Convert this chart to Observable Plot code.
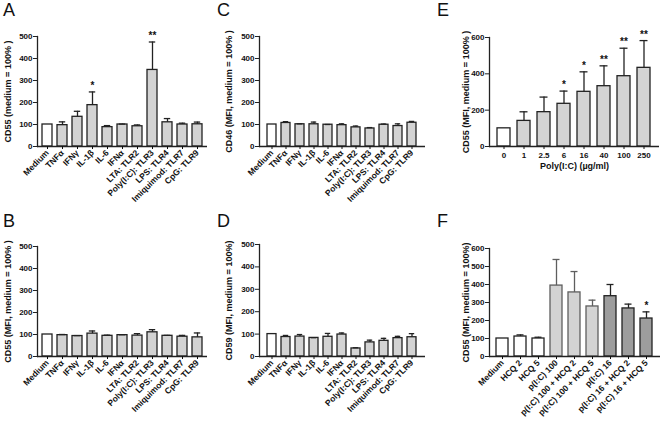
<!DOCTYPE html>
<html>
<head>
<meta charset="utf-8">
<script src="https://cdn.jsdelivr.net/npm/d3@7"></script>
<script src="https://cdn.jsdelivr.net/npm/@observablehq/plot@0.6"></script>
<style>
  html, body { margin: 0; padding: 0; background: #fff; }
  #wrap { position: relative; width: 660px; height: 423px; overflow: hidden; background: #fff; font-family: Arial, "Liberation Sans", sans-serif; }
  .panel { position: absolute; }
  .letter { position: absolute; font-size: 18px; color: #111; line-height: 1; }
</style>
</head>
<body>
<div id="wrap"></div>
<script>
// ---------- data ----------
const stimCats = ["Medium","TNFα","IFNγ","IL-1β","IL-6","IFNα","LTA: TLR2","Poly(I:C): TLR3","LPS: TLR4","Imiquimod: TLR7","CpG: TLR9"];
const stimGroups = ["ctrl","light","light","light","light","light","light","light","light","light","light"];

const aVal = [100, 97, 135, 188, 88, 100, 92, 348, 110, 100, 101];
const aErr = [0, 15, 25, 60, 7, 2, 6, 127, 17, 6, 10];
const aSig = ["", "", "", "*", "", "", "", "**", "", "", ""];

const bVal = [100, 97, 93, 104, 94, 97, 95, 110, 94, 90, 87];
const bErr = [0, 3, 2, 12, 3, 2, 9, 12, 2, 6, 20];

const cVal = [100, 107, 101, 101, 99, 97, 87, 82, 99, 93, 108];
const cErr = [0, 6, 2, 10, 1, 6, 6, 4, 3, 10, 6];

const dVal = [100, 87, 89, 83, 88, 98, 36, 63, 70, 82, 86];
const dErr = [0, 7, 9, 1, 15, 7, 3, 10, 11, 8, 16];

const eCats = ["0","1","2.5","6","16","40","100","250"];
const eGroups = ["ctrl","light","light","light","light","light","light","light"];
const eVal = [100, 141, 189, 235, 301, 332, 387, 433];
const eErr = [0, 50, 83, 70, 110, 112, 154, 150];
const eSig = ["", "", "", "*", "*", "**", "**", "**"];

const fCats = ["Medium","HCQ 2","HCQ 5","p(I:C) 100","p(I:C) 100 + HCQ 2","p(I:C) 100 + HCQ 5","p(I:C) 16","p(I:C) 16 + HCQ 2","p(I:C) 16 + HCQ 5"];
const fGroups = ["ctrl","ctrl","ctrl","pale","pale","pale","dark","dark","dark"];
const fVal = [100, 111, 100, 394, 356, 278, 335, 267, 211];
const fErr = [0, 9, 7, 145, 116, 35, 65, 24, 37];
const fSig = ["", "", "", "", "", "", "", "", "*"];

const ticks500 = [0, 100, 200, 300, 400, 500];
const ticksE = [0, 200, 400, 600];
const ticksF = [0, 100, 200, 300, 400, 500, 600];

// ---------- styles ----------
const fillOf = {ctrl: "#ffffff", light: "#d3d3d3", pale: "#d3d3d3", dark: "#9d9d9d"};
const strokeOf = {ctrl: "#222222", light: "#222222", pale: "#5e5e5e", dark: "#222222"};
const FONT = "Arial, 'Liberation Sans', sans-serif";

function panel(cfg) {
  const data = cfg.cats.map((c, i) => ({
    cat: c, val: cfg.vals[i], err: cfg.errs[i],
    sig: cfg.sigs ? cfg.sigs[i] : "", group: cfg.groups[i]
  }));
  const withErr = data.filter(d => d.err > 0);
  const withSig = data.filter(d => d.sig);
  const marks = [
    Plot.barY(data, {x: "cat", y: "val", fill: d => fillOf[d.group], stroke: d => strokeOf[d.group], strokeWidth: 1.3}),
    Plot.ruleX(withErr, {x: "cat", y1: "val", y2: d => d.val + d.err, stroke: d => strokeOf[d.group], strokeWidth: 1.3}),
    Plot.tickY(withErr, {x: "cat", y: d => d.val + d.err, stroke: d => strokeOf[d.group], strokeWidth: 1.3, insetLeft: cfg.capInset, insetRight: cfg.capInset}),
    Plot.text(withSig, {x: "cat", y: d => d.val + d.err, text: "sig", dy: -6, fontSize: 10, fontWeight: "bold", fill: "#111"}),
    Plot.ruleY([0], {stroke: "#222", strokeWidth: 1.3}),
    Plot.frame({anchor: "left", stroke: "#222", strokeWidth: 1.3}),
    Plot.axisY({ticks: cfg.yTicks, tickSize: 4, tickPadding: 1, label: null, fontSize: 8, fontWeight: "bold", stroke: "#222"}),
    Plot.text([cfg.yLabel], {frameAnchor: "left", text: d => d, rotate: -90, textAnchor: "middle", dx: cfg.yLabelDx, fontSize: 9, fontWeight: "bold", fill: "#111"})
  ];
  if (cfg.rotate) {
    marks.push(Plot.axisX({tickRotate: -45, tickSize: 3, tickPadding: 2, label: null, fontSize: 8.5, fontWeight: "bold"}));
  } else {
    marks.push(Plot.axisX({tickSize: 3, tickPadding: 3, label: null, fontSize: 8, fontWeight: "bold"}));
  }
  if (cfg.xLabel) {
    marks.push(Plot.text([cfg.xLabel], {frameAnchor: "bottom", text: d => d, dy: 22, fontSize: 9, fontWeight: "bold", fill: "#111"}));
  }
  const svg = Plot.plot({
    width: cfg.w, height: cfg.h,
    marginLeft: cfg.mL, marginRight: cfg.mR, marginTop: cfg.mT, marginBottom: cfg.mB,
    style: {fontFamily: FONT, fontSize: "8px", fontWeight: "bold", color: "#111", background: "transparent", overflow: "visible"},
    x: {domain: cfg.cats, paddingInner: 0.33, paddingOuter: cfg.po, align: 0.5},
    y: {domain: [0, cfg.yMax]},
    color: {type: "identity"},
    marks
  });
  const div = document.createElement("div");
  div.className = "panel";
  div.style.left = cfg.left + "px";
  div.style.top = cfg.top + "px";
  div.appendChild(svg);
  document.getElementById("wrap").appendChild(div);

  const lt = document.createElement("div");
  lt.className = "letter";
  lt.textContent = cfg.letter;
  lt.style.left = cfg.lx + "px";
  lt.style.top = cfg.ly + "px";
  document.getElementById("wrap").appendChild(lt);
}

panel({letter: "A", lx: 3, ly: 1, left: 0, top: 0, w: 220, h: 210, mL: 37, mR: 13, mT: 36, mB: 64, po: 0.15, capInset: 1.8,
  cats: stimCats, groups: stimGroups, vals: aVal, errs: aErr, sigs: aSig, yMax: 500, yTicks: ticks500,
  yLabel: "CD55 (medium = 100% )", yLabelDx: -29, rotate: true});
panel({letter: "C", lx: 217, ly: 1, left: 220, top: 0, w: 220, h: 210, mL: 39, mR: 15, mT: 36, mB: 64, po: 0.2, capInset: 1.8,
  cats: stimCats, groups: stimGroups, vals: cVal, errs: cErr, yMax: 500, yTicks: ticks500,
  yLabel: "CD46 (MFI, medium = 100% )", yLabelDx: -30, rotate: true});
panel({letter: "E", lx: 437, ly: 1, left: 440, top: 0, w: 220, h: 210, mL: 49, mR: 1, mT: 37, mB: 64, po: 0.33, capInset: 2.5,
  cats: eCats, groups: eGroups, vals: eVal, errs: eErr, sigs: eSig, yMax: 600, yTicks: ticksE,
  yLabel: "CD55 (MFI, medium = 100% )", yLabelDx: -23, rotate: false, xLabel: "Poly(I:C) (µg/ml)"});
panel({letter: "B", lx: 3, ly: 212, left: 0, top: 210, w: 220, h: 213, mL: 37, mR: 13, mT: 36, mB: 67, po: 0.15, capInset: 1.8,
  cats: stimCats, groups: stimGroups, vals: bVal, errs: bErr, yMax: 500, yTicks: ticks500,
  yLabel: "CD55 (MFI, medium = 100% )", yLabelDx: -29, rotate: true});
panel({letter: "D", lx: 217, ly: 212, left: 220, top: 210, w: 220, h: 213, mL: 39, mR: 15, mT: 34, mB: 67, po: 0.2, capInset: 1.8,
  cats: stimCats, groups: stimGroups, vals: dVal, errs: dErr, yMax: 500, yTicks: ticks500,
  yLabel: "CD59 (MFI, medium = 100%)", yLabelDx: -30, rotate: true});
panel({letter: "F", lx: 437, ly: 212, left: 440, top: 210, w: 220, h: 213, mL: 49, mR: 0, mT: 38, mB: 67, po: 0.35, capInset: 2.5,
  cats: fCats, groups: fGroups, vals: fVal, errs: fErr, sigs: fSig, yMax: 600, yTicks: ticksF,
  yLabel: "CD55 (MFI, medium = 100%)", yLabelDx: -23, rotate: true});
</script>
</body>
</html>
